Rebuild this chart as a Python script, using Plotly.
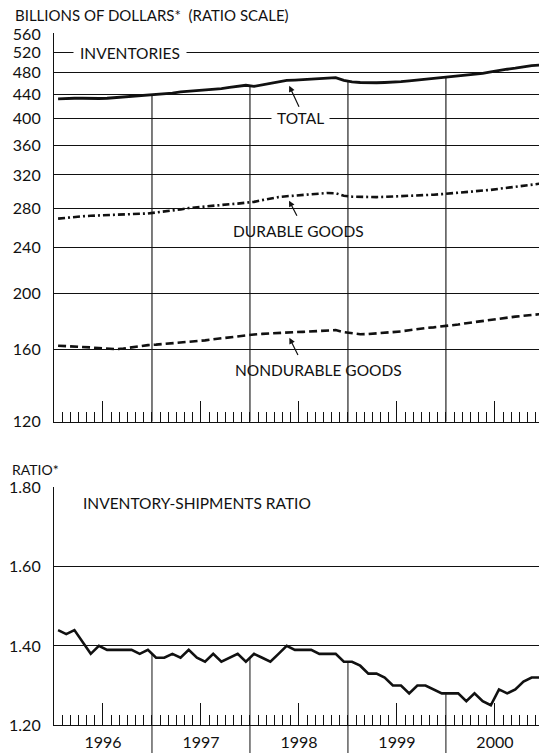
import math
import plotly.graph_objects as go

# ---------------- data ----------------
years = ["1996", "1997", "1998", "1999", "2000"]
year_bounds = [12, 24, 36, 48]          # month index where a new year starts
mid_year = [6, 18, 30, 42, 54]          # month index at mid-year (label / tall tick)
months = list(range(60))                # Jan 1996 .. Dec 2000

total = [433, 434, 434, 434, 433.5, 433.5, 434, 435, 436.5, 438, 439, 440,
         441, 442, 443, 445, 446, 447, 448, 449.5, 451, 453, 455, 457,
         455, 458, 461, 464, 466, 466.5, 467, 468, 469, 470, 471, 466,
         463, 462, 461.5, 461.5, 462, 462.5, 463.5, 465, 466.5, 468, 469.5, 471,
         472.5, 474, 475.5, 477, 479, 482, 485, 487, 489, 492, 494, 495]

durable = [269, 270, 270.5, 271.5, 272, 272.5, 273, 273.3, 273.6, 274, 274.2, 274.5,
           275.5, 276.5, 278, 279, 280.5, 281.5, 282.5, 283.5, 284.2, 284.8, 285.5, 286.2,
           287.5, 289.5, 291.5, 293, 294, 294.8, 295.5, 296.3, 297, 297.8, 297.5, 294.5,
           293.5, 293.2, 293, 293, 293.3, 293.6, 294, 294.4, 294.8, 295.3, 295.8, 296.5,
           297.2, 298, 298.8, 299.5, 300.3, 301.5, 302.8, 304, 305.3, 306.5, 308, 309]

nondurable = [162.3, 162.1, 161.9, 161.6, 161.2, 160.8, 160.4, 160.1, 160.5, 161.3, 162, 162.7,
              163, 163.4, 163.8, 164.3, 164.8, 165.3, 165.8, 166.5, 167.2, 167.9, 168.6, 169.3,
              169.7, 170.1, 170.5, 170.9, 171.1, 171.3, 171.5, 171.7, 172, 172.3, 172.7, 171.3,
              170.5, 169.9, 170, 170.4, 170.8, 171.2, 171.8, 172.6, 173.5, 174.1, 174.6, 175.1,
              175.8, 176.6, 177.5, 178.3, 179.1, 180, 180.9, 181.7, 182.2, 182.8, 183.6, 184]

ratio = [1.44, 1.43, 1.44, 1.41, 1.38, 1.40, 1.39, 1.39, 1.39, 1.39, 1.38, 1.39,
         1.37, 1.37, 1.38, 1.37, 1.39, 1.37, 1.36, 1.38, 1.36, 1.37, 1.38, 1.36,
         1.38, 1.37, 1.36, 1.38, 1.40, 1.39, 1.39, 1.39, 1.38, 1.38, 1.38, 1.36,
         1.36, 1.35, 1.33, 1.33, 1.32, 1.30, 1.30, 1.28, 1.30, 1.30, 1.29, 1.28,
         1.28, 1.28, 1.26, 1.28, 1.26, 1.25, 1.29, 1.28, 1.29, 1.31, 1.32, 1.32]

inv_ticks = [120, 160, 200, 240, 280, 320, 360, 400, 440, 480, 520, 560]
ratio_ticks = [1.20, 1.40, 1.60, 1.80]
ratio_ticktext = ["1.20", "1.40", "1.60", "1.80"]

# ---------------- styling ----------------
W, H = 539, 754
FONT = "Lato"
INK = "#111111"
X_DOMAIN = [54 / W, 1.0]
X_RANGE = [0, 59.4]
TOP_DOMAIN = [1 - 421.7 / H, 1 - 33.2 / H]
BOT_DOMAIN = [1 - 725 / H, 1 - 487 / H]

xs = [m + 0.5 for m in months]


def boundary_segments(series, base):
    xx, yy = [], []
    for b in year_bounds:
        v = (series[b - 1] + series[b]) / 2
        xx += [b, b, None]
        yy += [base, v, None]
    return xx, yy


fig = go.Figure()

fig.add_trace(go.Scatter(x=xs, y=total, mode="lines", xaxis="x", yaxis="y",
                         line=dict(color=INK, width=2.8), hoverinfo="skip"))
fig.add_trace(go.Scatter(x=xs, y=durable, mode="lines", xaxis="x", yaxis="y",
                         line=dict(color=INK, width=2.6, dash="7px,3px,2px,3px"), hoverinfo="skip"))
fig.add_trace(go.Scatter(x=xs, y=nondurable, mode="lines", xaxis="x", yaxis="y",
                         line=dict(color=INK, width=2.6, dash="8px,4px"), hoverinfo="skip"))
bx, by = boundary_segments(total, inv_ticks[0])
fig.add_trace(go.Scatter(x=bx, y=by, mode="lines", xaxis="x", yaxis="y",
                         line=dict(color=INK, width=1.1), hoverinfo="skip"))

fig.add_trace(go.Scatter(x=xs, y=ratio, mode="lines", xaxis="x2", yaxis="y2",
                         line=dict(color=INK, width=2.6), hoverinfo="skip"))
rx, ry = boundary_segments(ratio, ratio_ticks[0])
fig.add_trace(go.Scatter(x=rx, y=ry, mode="lines", xaxis="x2", yaxis="y2",
                         line=dict(color=INK, width=1.0), hoverinfo="skip"))

minor = dict(tickmode="linear", tick0=0, dtick=1, ticks="inside", ticklen=10,
             tickcolor=INK, tickwidth=1, showgrid=False)

common_x = dict(domain=X_DOMAIN, range=X_RANGE, showgrid=False, zeroline=False,
                showline=True, linecolor=INK, linewidth=1.2, automargin=False,
                tickmode="array", tickvals=mid_year, ticks="inside",
                tickcolor=INK, tickwidth=1, minor=minor)

common_y = dict(ticks="", showgrid=True, gridcolor=INK, gridwidth=1.1,
                showline=True, linecolor=INK, linewidth=1.2, zeroline=False,
                automargin=False, tickmode="array",
                tickfont=dict(family=FONT, size=16, color=INK), ticklabelstandoff=9)

fig.update_layout(
    width=W, height=H,
    margin=dict(l=0, r=0, t=0, b=0, autoexpand=False),
    paper_bgcolor="white", plot_bgcolor="white",
    showlegend=False,
    font=dict(family=FONT, color=INK),
    xaxis=dict(**common_x, anchor="y", ticklen=21, showticklabels=False),
    yaxis=dict(**common_y, domain=TOP_DOMAIN, type="log",
               range=[math.log10(inv_ticks[0]), math.log10(562)],
               tickvals=inv_ticks, ticktext=[str(v) for v in inv_ticks], anchor="x"),
    xaxis2=dict(**common_x, anchor="y2", ticklen=22, ticktext=years,
                tickfont=dict(family=FONT, size=16, color=INK), ticklabelstandoff=3),
    yaxis2=dict(**common_y, domain=BOT_DOMAIN, range=[ratio_ticks[0], 1.802],
                tickvals=ratio_ticks, ticktext=ratio_ticktext, anchor="x2"),
)

# year divider extension below bottom axis
for b in year_bounds:
    fig.add_shape(type="line", xref="x2", yref="paper", x0=b, x1=b,
                  y0=1 - 753 / H, y1=BOT_DOMAIN[0], line=dict(color=INK, width=1))


def label(text, px, py, size=15.5, bg=None, xanchor="center", pad=1):
    fig.add_annotation(text=text, x=px / W, y=1 - py / H, xref="paper", yref="paper",
                       showarrow=False, xanchor=xanchor, yanchor="middle",
                       font=dict(family=FONT, size=size, color=INK),
                       bgcolor=bg, borderpad=pad)


label("BILLIONS OF DOLLARS*  (RATIO SCALE)", 13, 15, size=15, xanchor="left")
label("INVENTORIES", 130, 53, bg="white", pad=6)
label("TOTAL", 300, 118, bg="white", pad=5)
label("DURABLE GOODS", 298, 231)
label("NONDURABLE GOODS", 318, 370)
label("RATIO*", 11, 469, size=14, xanchor="left", pad=0)
label("INVENTORY-SHIPMENTS RATIO", 81, 503, xanchor="left")


def arrow(series, idx, ax, ay, standoff):
    fig.add_annotation(x=xs[idx], y=math.log10(series[idx]), xref="x", yref="y",
                       text="", showarrow=True, ax=ax, ay=ay, arrowhead=2,
                       arrowsize=1, arrowwidth=1.2, arrowcolor=INK, standoff=standoff)


arrow(total, 28, 13, 28, 6)
arrow(durable, 28, 11, 21, 5)
arrow(nondurable, 28, 12, 24, 6)

fig.write_html(
    "out.html",
    config={"displayModeBar": False},
    post_script="document.body.style.margin='0';document.body.style.overflow='hidden';",
)
